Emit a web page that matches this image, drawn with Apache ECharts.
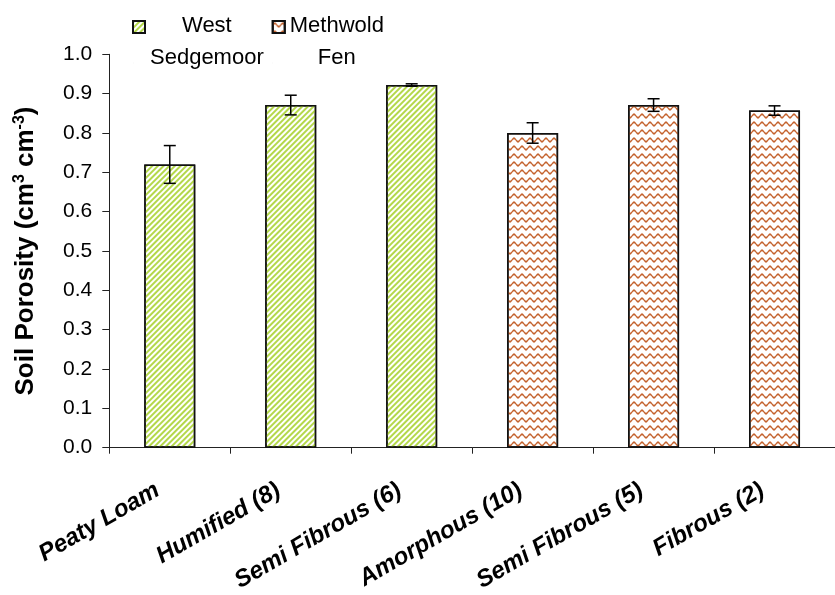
<!DOCTYPE html>
<html>
<head>
<meta charset="utf-8">
<script src="https://cdn.jsdelivr.net/npm/echarts@6/dist/echarts.min.js"></script>
<style>
html,body{margin:0;padding:0;background:#fff;}
#chart{width:835px;height:595px;}
</style>
</head>
<body>
<div id="chart"></div>
<script>
// ---- data ----
var categories = ['Peaty Loam', 'Humified (8)', 'Semi Fibrous (6)', 'Amorphous (10)', 'Semi Fibrous (5)', 'Fibrous (2)'];
var seriesNames = ['West Sedgemoor', 'Methwold Fen'];
var westValues = [0.720, 0.871, 0.922, null, null, null];
var methwoldValues = [null, null, null, 0.800, 0.871, 0.857];
var errorValues = [0.048, 0.025, 0.003, 0.026, 0.016, 0.012];
var yTicks = [0, 0.1, 0.2, 0.3, 0.4, 0.5, 0.6, 0.7, 0.8, 0.9, 1.0];

var FONT = 'Liberation Sans, Arial, sans-serif';
var chart = echarts.init(document.getElementById('chart'), null, {renderer: 'canvas'});

var means = categories.map(function (c, i) {
  return westValues[i] != null ? westValues[i] : methwoldValues[i];
});
var errData = categories.map(function (c, i) { return [i, means[i], errorValues[i]]; });

var greenDecal = {
  symbol: 'rect', symbolSize: 1, color: '#b4d84a',
  dashArrayX: [1, 0], dashArrayY: [2, 2], rotation: -Math.PI / 4
};
var waveDecal = {
  symbol: 'path://M0,2.2 L1,0.93 L2,0.4 L3,0.93 L4,2.2 L5,3.47 L6,4.0 L7,3.47 L8,2.2 L8,4.2 L7,5.47 L6,6.0 L5,5.47 L4,4.2 L3,2.93 L2,2.4 L1,2.93 L0,4.2 Z',
  symbolSize: 1, color: '#c4622d', symbolKeepAspect: true,
  dashArrayX: [8, 0], dashArrayY: [8, 0], rotation: 0
};

var legendIcon = 'path://M0,0 L12,0 L12,12 L0,12 Z M0,42 L0.01,42';

var option = {
  backgroundColor: '#ffffff',
  animation: false,
  textStyle: {fontFamily: FONT},
  legend: {
    left: 132, top: 15, padding: 0, itemGap: 8,
    itemWidth: 12, itemHeight: 42, icon: legendIcon,
    data: seriesNames,
    formatter: function (name) {
      var p = name.split(' ');
      return '{t|' + p[0] + '}\n{t|' + p[1] + '}';
    },
    textStyle: {
      color: '#000', fontFamily: FONT, fontSize: 22,
      rich: {t: {align: 'center', fontSize: 22, lineHeight: 32, fontFamily: FONT, color: '#000'}}
    }
  },
  grid: {left: 109.3, top: 54.3, width: 733, height: 393.4, containLabel: false},
  xAxis: {
    type: 'category', data: categories,
    axisLine: {lineStyle: {color: '#222', width: 1}},
    axisTick: {show: true, length: 6, lineStyle: {color: '#222'}},
    axisLabel: {
      rotate: 30, margin: 34, color: '#000', fontFamily: FONT,
      fontSize: 24, fontWeight: 'bold', fontStyle: 'italic', padding: [0, 14, 0, 0]
    },
    splitLine: {show: false}
  },
  yAxis: {
    type: 'value', min: 0, max: 1, interval: 0.1,
    name: 'Soil Porosity (cm{sup|3} cm{sup|-3})',
    nameLocation: 'middle', nameRotate: 90, nameGap: 68,
    nameTextStyle: {
      color: '#000', fontFamily: FONT, fontSize: 26, fontWeight: 'bold', lineHeight: 30,
      rich: {
        sup: {fontSize: 16, fontWeight: 'bold', lineHeight: 15, verticalAlign: 'top', fontFamily: FONT, color: '#000'}
      }
    },
    axisLine: {show: true, lineStyle: {color: '#222', width: 1}},
    axisTick: {show: true, length: 7, lineStyle: {color: '#222'}},
    axisLabel: {
      margin: 17, color: '#000', fontFamily: FONT, fontSize: 21,
      formatter: function (v) {
        for (var k = 0; k < yTicks.length; k++) {
          if (Math.abs(yTicks[k] - v) < 1e-9) return yTicks[k].toFixed(1);
        }
        return '';
      }
    },
    splitLine: {show: false}
  },
  series: [
    {
      name: seriesNames[0], type: 'bar', data: westValues, barWidth: 51, barGap: '-100%',
      itemStyle: {color: '#ffffff', borderColor: '#111', borderWidth: 1.5, decal: greenDecal}
    },
    {
      name: seriesNames[1], type: 'bar', data: methwoldValues, barWidth: 51, barGap: '-100%',
      itemStyle: {color: '#ffffff', borderColor: '#111', borderWidth: 1.5, decal: waveDecal}
    },
    {
      name: 'error', type: 'custom', data: errData, z: 10,
      renderItem: function (params, api) {
        var i = api.value(0), m = api.value(1), e = api.value(2);
        var top = api.coord([i, m + e]);
        var bot = api.coord([i, m - e]);
        var hw = 6;
        var st = {stroke: '#000', lineWidth: 1.5};
        return {
          type: 'group',
          children: [
            {type: 'line', shape: {x1: top[0], y1: top[1], x2: bot[0], y2: bot[1]}, style: st},
            {type: 'line', shape: {x1: top[0] - hw, y1: top[1], x2: top[0] + hw, y2: top[1]}, style: st},
            {type: 'line', shape: {x1: bot[0] - hw, y1: bot[1], x2: bot[0] + hw, y2: bot[1]}, style: st}
          ]
        };
      }
    }
  ]
};
chart.setOption(option);
</script>
</body>
</html>
